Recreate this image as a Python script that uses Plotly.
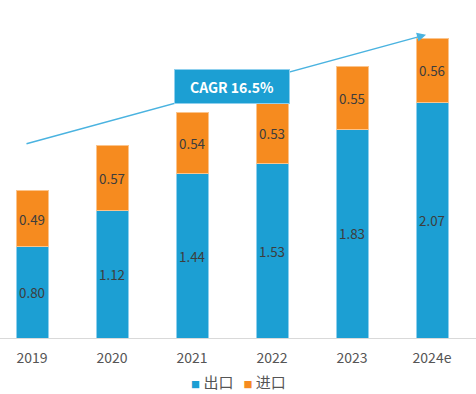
import plotly.graph_objects as go

years = ["2019", "2020", "2021", "2022", "2023", "2024e"]
export_vals = [0.80, 1.12, 1.44, 1.53, 1.83, 2.07]
import_vals = [0.49, 0.57, 0.54, 0.53, 0.55, 0.56]
series_names = ["出口", "进口"]
cagr_text = "CAGR 16.5%"

BLUE = "#1c9fd3"
ORANGE = "#f68b1f"
FONT = "Noto Sans CJK SC"

fig = go.Figure()
fig.add_trace(go.Bar(
    x=years, y=export_vals, name=series_names[0],
    marker=dict(color=BLUE, line=dict(color="#8fd0ee", width=1)),
    text=[f"{v:.2f}" for v in export_vals], textposition="inside",
    insidetextanchor="middle", textangle=0,
    textfont=dict(color="#3d3d3d", size=15, family=FONT),
))
fig.add_trace(go.Bar(
    x=years, y=import_vals, name=series_names[1],
    marker=dict(color=ORANGE, line=dict(color="#fbc48c", width=1)),
    text=[f"{v:.2f}" for v in import_vals], textposition="inside",
    insidetextanchor="middle", textangle=0,
    textfont=dict(color="#3d3d3d", size=15, family=FONT),
))

# trend arrow
fig.add_annotation(
    x=4.925, y=2.66, ax=-0.0875, ay=1.70,
    xref="x", yref="y", axref="x", ayref="y",
    showarrow=True, arrowhead=2, arrowsize=1.2, arrowwidth=1.5,
    arrowcolor="#4ab3e0", text="",
)
# CAGR box
fig.add_annotation(
    x=2.5, y=2.21, xref="x", yref="y", showarrow=False,
    text="<b>" + cagr_text + "</b>", bgcolor=BLUE, bordercolor="#8fd0ee", borderwidth=1,
    width=106, height=25, borderpad=4,
    font=dict(color="white", size=14, family=FONT),
)
# legend as text
plot_h = 394 - 10 - 56
legend_text = (f"<span style='color:{BLUE};font-size:9px'>■</span> {series_names[0]}"
               f"&nbsp;&nbsp;&nbsp;<span style='color:{ORANGE};font-size:9px'>■</span> {series_names[1]}")
fig.add_annotation(
    x=0.5, y=(394 - 56 - 381) / plot_h, xref="paper", yref="paper", showarrow=False,
    text=legend_text, font=dict(size=15, color="#555555", family=FONT),
    xanchor="center", yanchor="middle",
)

fig.update_layout(
    barmode="stack", bargap=0.6,
    width=476, height=394,
    margin=dict(l=0, r=0, t=10, b=56, autoexpand=False),
    plot_bgcolor="white", paper_bgcolor="white",
    font=dict(family=FONT, color="#555555"),
    showlegend=False,
    xaxis=dict(range=[-0.4, 5.55], showline=True, linecolor="#d9d9d9", linewidth=1,
               ticks="outside", ticklen=7, tickcolor="rgba(0,0,0,0)",
               tickfont=dict(size=14, color="#555555"), showgrid=False,
               automargin=False),
    yaxis=dict(range=[0, 2.877], visible=False, showgrid=False, automargin=False),
)

fig.write_html("out.html", config={"displayModeBar": False},
               post_script="document.body.style.margin='0px';")
